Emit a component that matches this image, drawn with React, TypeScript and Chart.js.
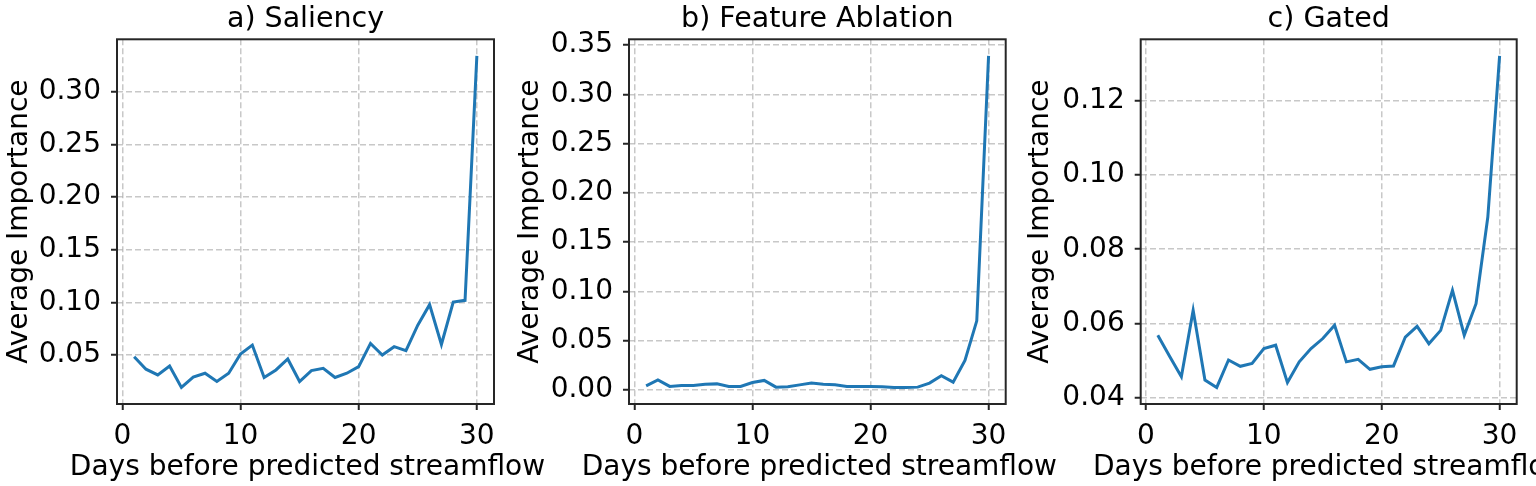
import React, { useEffect, useRef } from "react";
import { Chart, registerables } from "chart.js";

Chart.register(...registerables);

// ---- data ----
const days = [1, 2, 3, 4, 5, 6, 7, 8, 9, 10, 11, 12, 13, 14, 15, 16, 17, 18, 19, 20, 21, 22, 23, 24, 25, 26, 27, 28, 29, 30];

const saliency = [0.0484, 0.0365, 0.0311, 0.0396, 0.0192, 0.029, 0.0327, 0.0248, 0.0327, 0.051, 0.0594, 0.0286, 0.0358, 0.0462, 0.0248, 0.0352, 0.0374, 0.0286, 0.0327, 0.039, 0.061, 0.05, 0.0579, 0.0541, 0.0783, 0.0978, 0.06, 0.1003, 0.1019, 0.334];

const ablation = [0.004, 0.01, 0.0034, 0.0044, 0.0044, 0.0057, 0.006, 0.0034, 0.0034, 0.0074, 0.0095, 0.0027, 0.003, 0.005, 0.0068, 0.0057, 0.005, 0.0034, 0.0034, 0.0034, 0.003, 0.0024, 0.0024, 0.0027, 0.0068, 0.0142, 0.0078, 0.0297, 0.07, 0.339];

const gated = [0.0568, 0.0511, 0.0456, 0.0635, 0.0447, 0.0427, 0.0501, 0.0484, 0.0492, 0.0532, 0.0541, 0.044, 0.0496, 0.0532, 0.0559, 0.0595, 0.0496, 0.0503, 0.0476, 0.0483, 0.0485, 0.0563, 0.0592, 0.0545, 0.0581, 0.0689, 0.0568, 0.0653, 0.0887, 0.1322];

const xTicks = [0, 10, 20, 30];
const saliencyTicks = [0.05, 0.1, 0.15, 0.2, 0.25, 0.3];
const ablationTicks = [0, 0.05, 0.1, 0.15, 0.2, 0.25, 0.3, 0.35];
const gatedTicks = [0.04, 0.06, 0.08, 0.1, 0.12];

const titles = ["a) Saliency", "b) Feature Ablation", "c) Gated"];
const xTitle = "Days before predicted streamflow";
const yTitle = "Average Importance";

// ---- layout / style ----
const W = 1536;
const H = 486;
const FONT = "DejaVu Sans";
const LINE_COLOR = "#1f77b4";

type Panel = {
  title: string;
  values: number[];
  yTicks: number[];
  padLeft: number;
  yWidth: number;
  padRight: number;
};

const panels: Panel[] = [
  { title: titles[0], values: saliency, yTicks: saliencyTicks, padLeft: 2.5, yWidth: 114.5, padRight: 1042 },
  { title: titles[1], values: ablation, yTicks: ablationTicks, padLeft: 514, yWidth: 115, padRight: 530.3 },
  { title: titles[2], values: gated, yTicks: gatedTicks, padLeft: 1024, yWidth: 116.7, padRight: 19.3 },
];

function bounds(vals: number[]) {
  const lo = Math.min(...vals);
  const hi = Math.max(...vals);
  const m = (hi - lo) * 0.05;
  return [lo - m, hi + m];
}

const framePlugin = {
  id: "frameAndXTitle",
  afterDraw(chart: any) {
    const { ctx, chartArea } = chart;
    const { left, top, right, bottom } = chartArea;
    ctx.save();
    ctx.strokeStyle = "#262626";
    ctx.lineWidth = 2;
    ctx.strokeRect(left, top, right - left, bottom - top);
    ctx.fillStyle = "#000";
    ctx.font = `28px "${FONT}"`;
    ctx.textAlign = "center";
    ctx.textBaseline = "alphabetic";
    ctx.fillText(xTitle, (left + right) / 2 + 2, bottom + 71);
    ctx.restore();
  },
};

function PanelChart({ p }: { p: Panel }) {
  const ref = useRef<HTMLCanvasElement>(null);
  useEffect(() => {
    if (!ref.current) return;
    const [xMin, xMax] = bounds(days);
    const [yMin, yMax] = bounds(p.values);
    const grid = {
      color: "rgba(176,176,176,0.7)",
      lineWidth: 1.5,
      drawTicks: true,
      tickLength: 6,
      tickColor: "#262626",
      tickWidth: 2,
      tickBorderDash: [],
    };
    const border = { display: false, dash: [6, 3] };
    const chart = new Chart(ref.current, {
      type: "line",
      data: {
        labels: days,
        datasets: [
          {
            data: days.map((d, i) => ({ x: d, y: p.values[i] })),
            borderColor: LINE_COLOR,
            borderWidth: 3,
            pointRadius: 0,
            fill: false,
            tension: 0,
          },
        ],
      },
      options: {
        animation: false,
        responsive: false,
        devicePixelRatio: 1,
        layout: { padding: { left: p.padLeft, right: p.padRight, top: 0, bottom: 0 } },
        plugins: {
          legend: { display: false },
          tooltip: { enabled: false },
          title: {
            display: true,
            text: p.title,
            fullSize: false,
            color: "#000",
            font: { family: FONT, size: 28.5, weight: "normal" },
            padding: { top: 2.5, bottom: 2.6 },
          },
        },
        scales: {
          x: {
            type: "linear",
            min: xMin,
            max: xMax,
            bounds: "data",
            grid,
            border,
            afterBuildTicks: (axis: any) => {
              axis.ticks = xTicks.map((v) => ({ value: v }));
            },
            afterFit: (axis: any) => {
              axis.height = 82;
            },
            ticks: {
              color: "#000",
              padding: 10,
              maxRotation: 0,
              font: { family: FONT, size: 28 },
              callback: (v: any) => String(v),
            },
          },
          y: {
            type: "linear",
            min: yMin,
            max: yMax,
            bounds: "data",
            grid,
            border,
            afterBuildTicks: (axis: any) => {
              axis.ticks = p.yTicks.map((v) => ({ value: v }));
            },
            afterFit: (axis: any) => {
              axis.width = p.yWidth;
            },
            ticks: {
              color: "#000",
              padding: 10,
              font: { family: FONT, size: 28 },
              callback: (v: any) => Number(v).toFixed(2),
            },
            title: {
              display: true,
              text: yTitle,
              color: "#000",
              font: { family: FONT, size: 28 },
              padding: { top: 0, bottom: 0 },
            },
          },
        },
      },
      plugins: [framePlugin],
    } as any);
    return () => chart.destroy();
  }, [p]);
  return (
    <canvas
      ref={ref}
      width={W}
      height={H}
      style={{ position: "absolute", left: 0, top: 0, width: W, height: H }}
    />
  );
}

export default function App() {
  return (
    <div
      style={{
        position: "fixed",
        left: 0,
        top: 0,
        width: W,
        height: H,
        background: "#fff",
        overflow: "hidden",
      }}
    >
      {panels.map((p) => (
        <PanelChart key={p.title} p={p} />
      ))}
    </div>
  );
}
